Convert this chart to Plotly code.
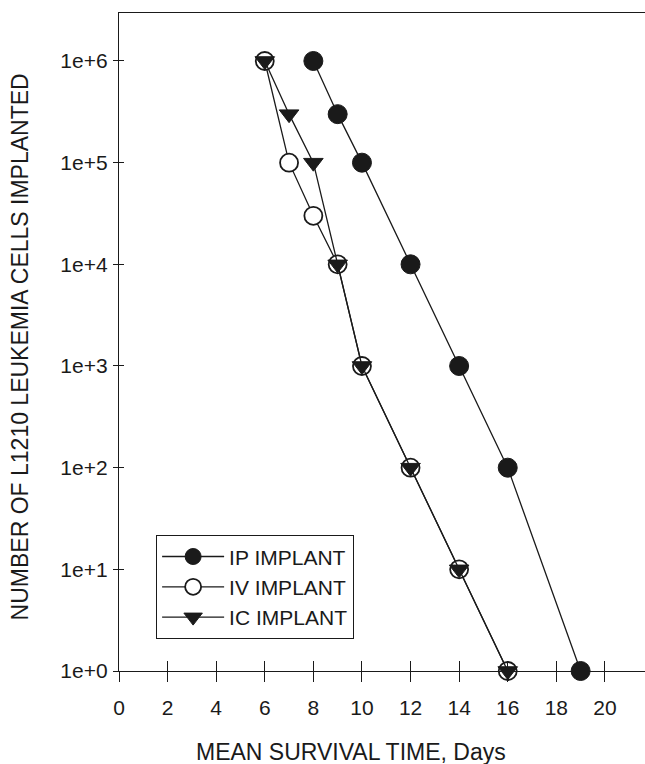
import plotly.graph_objects as go

# ---- data ----
ip_days = [8, 9, 10, 12, 14, 16, 19]
ip_cells = [1e6, 3e5, 1e5, 1e4, 1e3, 1e2, 1e0]

iv_days = [6, 7, 8, 9, 10, 12, 14, 16]
iv_cells = [1e6, 1e5, 3e4, 1e4, 1e3, 1e2, 1e1, 1e0]

ic_days = [6, 7, 8, 9, 10, 12, 14, 16]
ic_cells = [1e6, 3e5, 1e5, 1e4, 1e3, 1e2, 1e1, 1e0]

x_ticks = [0, 2, 4, 6, 8, 10, 12, 14, 16, 18, 20]
y_ticks = [1e0, 1e1, 1e2, 1e3, 1e4, 1e5, 1e6]
y_ticktext = ["1e+0", "1e+1", "1e+2", "1e+3", "1e+4", "1e+5", "1e+6"]

FONT = "Liberation Sans, Arial, sans-serif"
INK = "#1a1a1a"
XR = [0, 21.65]
YR = [0, 6.472]

fig = go.Figure()
common_line = dict(color=INK, width=1.3)
fig.add_trace(go.Scatter(x=ip_days, y=ip_cells, mode="lines+markers", name="IP IMPLANT",
                         line=common_line, cliponaxis=False,
                         marker=dict(symbol="circle", size=19, color=INK, line=dict(color=INK, width=1))))
fig.add_trace(go.Scatter(x=iv_days, y=iv_cells, mode="lines+markers", name="IV IMPLANT",
                         line=common_line, cliponaxis=False,
                         marker=dict(symbol="circle", size=18, color="white", line=dict(color=INK, width=1.8))))
fig.add_trace(go.Scatter(x=ic_days, y=ic_cells, mode="lines+markers", name="IC IMPLANT",
                         line=common_line, cliponaxis=False,
                         marker=dict(symbol="triangle-down", size=17, color=INK, line=dict(color=INK, width=1))))
# invisible trace to carry the inner tick axes
fig.add_trace(go.Scatter(x=[1], y=[1], xaxis="x2", yaxis="y2", mode="markers",
                         marker=dict(opacity=0), showlegend=False, hoverinfo="skip"))

fig.update_layout(
    width=645, height=764,
    margin=dict(l=119, r=0, t=13, b=93),
    paper_bgcolor="white", plot_bgcolor="white",
    font=dict(family=FONT, color=INK, size=21),
    showlegend=True,
    legend=dict(x=0.070, y=0.2066, xanchor="left", yanchor="top",
                bordercolor=INK, borderwidth=1.3, bgcolor="white",
                font=dict(size=21, family=FONT, color=INK),
                itemwidth=62),
    xaxis=dict(range=XR, tickvals=x_ticks, ticks="outside", ticklen=10, tickwidth=1.2,
               tickcolor=INK, showline=True, linecolor=INK, linewidth=1.3, mirror=True,
               showgrid=False, zeroline=False, tickfont=dict(size=21), ticklabelstandoff=8),
    yaxis=dict(type="log", range=YR, tickvals=y_ticks, ticktext=y_ticktext, ticks="outside",
               ticklen=5, tickwidth=1.2, tickcolor=INK, showline=True, linecolor=INK,
               linewidth=1.3, mirror=False, showgrid=False, zeroline=False,
               tickfont=dict(size=21), ticklabelstandoff=1),
    xaxis2=dict(overlaying="x", anchor="y", side="bottom", range=XR, tickvals=x_ticks,
                ticks="inside", ticklen=10, tickwidth=1.2, tickcolor=INK, showticklabels=False,
                showline=False, showgrid=False, zeroline=False),
    yaxis2=dict(overlaying="y", anchor="x", side="left", type="log", range=YR, tickvals=y_ticks,
                ticks="inside", ticklen=5, tickwidth=1.2, tickcolor=INK, showticklabels=False,
                showline=False, showgrid=False, zeroline=False),
    annotations=[
        dict(text="MEAN SURVIVAL TIME, Days", xref="paper", yref="paper", x=0.441, y=-0.123,
             xanchor="center", yanchor="middle", showarrow=False, font=dict(size=23)),
        dict(text="NUMBER OF L1210 LEUKEMIA CELLS IMPLANTED", xref="paper", yref="paper",
             x=-0.188, y=0.492, xanchor="center", yanchor="middle", textangle=-90,
             showarrow=False, font=dict(size=23)),
    ],
)

fig.write_html("out.html", config={"displayModeBar": False},
               post_script="document.body.style.margin='0';document.body.style.overflow='hidden';")
